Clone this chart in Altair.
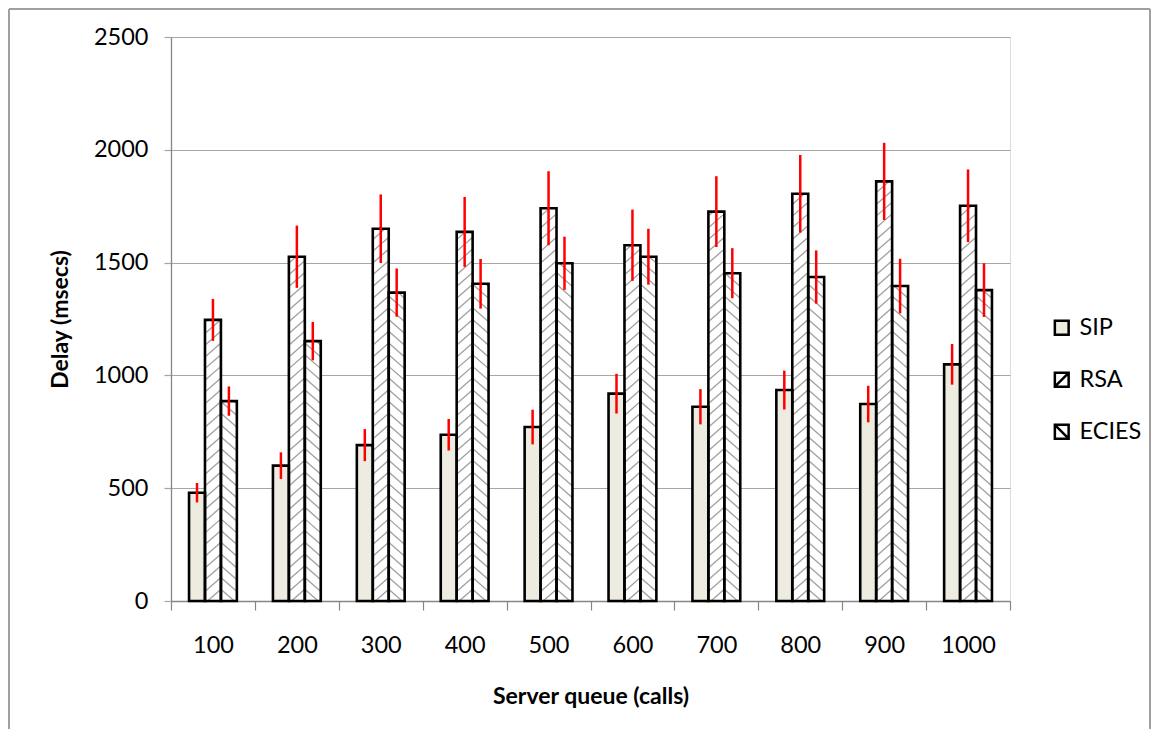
import altair as alt
import pandas as pd

# ---------------- data ----------------
CATS = ["100", "200", "300", "400", "500", "600", "700", "800", "900", "1000"]
SERIES = ["SIP", "RSA", "ECIES"]
SIP = [480, 600, 691, 737, 771, 919, 861, 935, 873, 1049]
SIP_ERR = [43, 59, 71, 70, 77, 88, 78, 86, 81, 90]
RSA = [1246, 1526, 1650, 1636, 1741, 1577, 1726, 1805, 1860, 1752]
RSA_ERR = [93, 138, 152, 155, 164, 158, 157, 172, 171, 161]
ECIES = [886, 1152, 1367, 1406, 1497, 1526, 1453, 1436, 1396, 1378]
ECIES_ERR = [65, 85, 107, 110, 118, 124, 111, 118, 121, 119]
Y_TICKS = [0, 500, 1000, 1500, 2000, 2500]

VALUES = [SIP, RSA, ECIES]
ERRORS = [SIP_ERR, RSA_ERR, ECIES_ERR]

rows = []
for gi, cat in enumerate(CATS):
    for si, s in enumerate(SERIES):
        rows.append({"g": gi + 1, "cat": cat, "series": s, "sidx": si,
                     "value": VALUES[si][gi], "err": ERRORS[si][gi]})
df = pd.DataFrame(rows)

# ---------------- layout / style ----------------
W, H = 839, 564
BW = 0.19          # bar width in category units
D = 62             # hatch rise across one bar (y units)
STEP = 52          # hatch spacing (y units)
FONT = "Lato"
GRID = "#a6a6a6"
AXC = "#868686"

x_bounds = [i + 0.5 for i in range(len(CATS) + 1)]
label_js = "[" + ",".join("'" + c + "'" for c in CATS) + "]"

xscale = alt.Scale(domain=[0.5, len(CATS) + 0.5], nice=False, zero=False)
yscale = alt.Scale(domain=[Y_TICKS[0], Y_TICKS[-1]], nice=False)

xaxis = alt.Axis(
    values=x_bounds,
    labelExpr=f"datum.value < {len(CATS)} ? {label_js}[floor(datum.value)] : ''",
    labelOffset=W / len(CATS) / 2,
    labelOverlap=False, labelBound=False, labelFlush=False,
    labelFontSize=23.5, labelFont=FONT, labelColor="#000000", labelPadding=23,
    tickSize=9, tickColor=AXC, tickWidth=1.2,
    domainColor=AXC, domainWidth=1.3, grid=False,
    title="Server queue (calls)", titleFont=FONT, titleFontSize=23,
    titleFontWeight="bold", titleColor="#000000", titlePadding=29,
)
yaxis = alt.Axis(
    values=Y_TICKS, format="d",
    labelFontSize=23.5, labelFont=FONT, labelColor="#000000", labelPadding=16,
    tickSize=7, tickColor=GRID, tickWidth=1.2,
    domainColor=AXC, domainWidth=1.3,
    grid=True, gridColor=GRID, gridWidth=1.2,
    title="Delay (msecs)", titleFont=FONT, titleFontSize=23,
    titleFontWeight="bold", titleColor="#000000", titlePadding=21,
)

bars_base = alt.Chart(df).transform_calculate(
    xl=f"datum.g + (datum.sidx - 1.5) * {BW}"
).transform_calculate(
    xr=f"datum.xl + {BW}",
    xc=f"datum.xl + {BW} / 2",
    zero="0",
    lo="datum.value - datum.err",
    hi="datum.value + datum.err",
    fillc="datum.series == 'SIP' ? '#eeece1' : '#ffffff'",
)

fills = bars_base.mark_rect(strokeWidth=0).encode(
    x=alt.X("xl:Q", scale=xscale, axis=xaxis),
    x2="xr:Q",
    y=alt.Y("value:Q", scale=yscale, axis=yaxis),
    y2="zero:Q",
    fill=alt.Fill("fillc:N", scale=None),
)

hatch = (
    alt.Chart(df)
    .transform_filter("datum.sidx > 0")
    .transform_calculate(k=f"sequence(0, ceil((datum.value + {D}) / {STEP}) + 1)")
    .transform_flatten(["k"])
    .transform_calculate(y0=f"datum.k * {STEP} - {D}")
    .transform_calculate(xl=f"datum.g + (datum.sidx - 1.5) * {BW}")
    .transform_calculate(
        t1=f"datum.sidx == 1 ? max(0, -datum.y0 / {D}) : max(0, 1 - (datum.value - datum.y0) / {D})"
    )
    .transform_calculate(
        t2=f"datum.sidx == 1 ? min(1, (datum.value - datum.y0) / {D}) : min(1, 1 + datum.y0 / {D})"
    )
    .transform_filter("datum.t2 > datum.t1")
    .transform_calculate(hx1=f"datum.xl + datum.t1 * {BW}")
    .transform_calculate(hx2=f"datum.xl + datum.t2 * {BW}")
    .transform_calculate(
        hy1=f"datum.sidx == 1 ? datum.y0 + {D} * datum.t1 : datum.y0 + {D} * (1 - datum.t1)"
    )
    .transform_calculate(
        hy2=f"datum.sidx == 1 ? datum.y0 + {D} * datum.t2 : datum.y0 + {D} * (1 - datum.t2)"
    )
    .mark_rule(color="#a0a0a0", strokeWidth=1.3)
    .encode(x="hx1:Q", x2="hx2:Q", y="hy1:Q", y2="hy2:Q")
)

outline = bars_base.mark_rect(fillOpacity=0, stroke="#000000", strokeWidth=2.6).encode(
    x="xl:Q", x2="xr:Q", y="value:Q", y2="zero:Q"
)

errs = bars_base.mark_rule(color="#ff0000", strokeWidth=2.5).encode(
    x="xc:Q", y="lo:Q", y2="hi:Q"
)

legend = alt.Legend(
    title=None, orient="none", legendX=879, legendY=279,
    labelFont=FONT, labelFontSize=23.5, labelColor="#000000",
    symbolSize=190, symbolStrokeWidth=2.5, symbolStrokeColor="#000000",
    rowPadding=27, labelOffset=6, padding=0,
)
shapes = [
    "square",
    "M-1,-1H1V1H-1ZM-1,1L1,-1",
    "M-1,-1H1V1H-1ZM-1,-1L1,1",
]
legend_layer = (
    alt.Chart(df)
    .transform_filter("datum.value < 0")
    .mark_point(filled=True, stroke="#000000", strokeWidth=2.5, opacity=1, size=190)
    .encode(
        fill=alt.Fill("series:N", scale=alt.Scale(domain=SERIES, range=["#eeece1", "#ffffff", "#ffffff"]),
                      legend=legend),
        shape=alt.Shape("series:N", scale=alt.Scale(domain=SERIES, range=shapes), legend=legend),
    )
)

one = alt.Data(values=[{}])
frame_l = alt.Chart(one).mark_rule(color="#a0a0a0", strokeWidth=2).encode(
    x=alt.value(-162), y=alt.value(-28), y2=alt.value(692))
frame_t = alt.Chart(one).mark_rule(color="#a0a0a0", strokeWidth=2).encode(
    x=alt.value(-162), x2=alt.value(979), y=alt.value(-28))
frame_r = alt.Chart(one).mark_rule(color="#a0a0a0", strokeWidth=2).encode(
    x=alt.value(979), y=alt.value(-28), y2=alt.value(692))

chart = (
    alt.layer(fills, hatch, outline, errs, legend_layer, frame_l, frame_t, frame_r)
    .properties(width=W, height=H, padding=0, background="#ffffff")
    .configure_view(stroke=None)
    .configure(font=FONT)
)

chart.save("out.html", embed_options={"renderer": "svg", "actions": False})
